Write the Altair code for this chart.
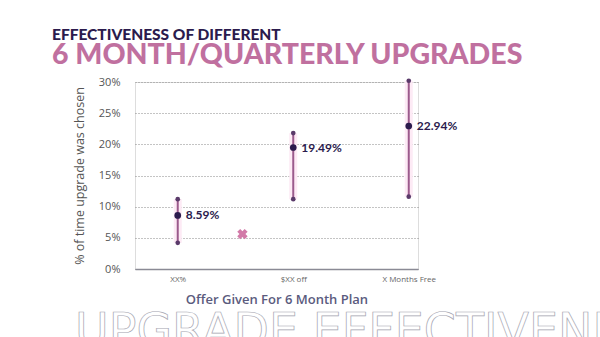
import altair as alt
import pandas as pd

categories = ["XX%", "$XX off", "X Months Free"]
positions = [0, 1, 2]
means = [8.59, 19.49, 22.94]
lows = [4.2, 11.2, 11.6]
highs = [11.2, 21.8, 30.2]
labels = ["8.59%", "19.49%", "22.94%"]

marker_x = [0.56]
marker_y = [5.6]

df = pd.DataFrame({"pos": positions, "cat": categories, "mean": means,
                   "low": lows, "high": highs, "label": labels})
ends = pd.DataFrame({"pos": positions * 2, "v": lows + highs})
mk = pd.DataFrame({"pos": marker_x, "v": marker_y})

W, H = 283, 187
xs = alt.Scale(domain=[-0.37, 2.08], nice=False, zero=False)
ys = alt.Scale(domain=[0, 30], nice=False)

label_expr = "datum.value == 0 ? 'XX%' : datum.value == 1 ? '$XX off' : 'X Months Free'"

x_axis = alt.Axis(values=positions, labelExpr=label_expr, title="Offer Given For 6 Month Plan",
                  grid=False, ticks=False, domain=True, domainColor="#8a8a95", domainWidth=1.5,
                  labelColor="#666", labelFontSize=8, labelPadding=6, labelFont="Open Sans",
                  titleColor="#5b5b7e", titleFontSize=13, titleFont="Open Sans",
                  titleFontWeight=600, titlePadding=10)
y_axis = alt.Axis(values=[0, 5, 10, 15, 20, 25, 30], labelExpr="datum.value + '%'",
                  title="% of time upgrade was chosen", grid=True, gridDash=[1, 2],
                  gridColor="#888", gridWidth=1, ticks=False, domain=False,
                  labelColor="#555", labelFontSize=11, labelFont="Open Sans", labelPadding=15,
                  labelOverlap=False,
                  titleColor="#555", titleFontSize=12.5, titleFont="Open Sans",
                  titleFontWeight="normal", titlePadding=12)

X = lambda f: alt.X(f, scale=xs, axis=x_axis)
Y = lambda f: alt.Y(f, scale=ys, axis=y_axis)

base = alt.Chart(df)

band = base.mark_rule(color="#fdeaf5", strokeWidth=8).encode(
    x=X("pos:Q"), y=Y("low:Q"), y2="high:Q")

rule = base.mark_rule(color="#9b5a8c", strokeWidth=2).encode(
    x=X("pos:Q"), y=Y("low:Q"), y2="high:Q")

endpts = alt.Chart(ends).mark_point(filled=True, color="#5a3a6a", size=22, opacity=1).encode(
    x=X("pos:Q"), y=Y("v:Q"))

meanpt = base.mark_point(filled=True, color="#2b1b4d", size=45, opacity=1).encode(
    x=X("pos:Q"), y=Y("mean:Q"))

txt = base.mark_text(align="left", dx=8, fontSize=12, fontWeight="bold", color="#2b1b4d",
                     font="Lato").encode(
    x=X("pos:Q"), y=Y("mean:Q"), text="label:N")

marker = alt.Chart(mk).mark_point(shape="cross", angle=45, filled=True, color="#d27aa8",
                                  size=110, opacity=1).encode(
    x=X("pos:Q"), y=Y("v:Q"))

bg = alt.Chart(pd.DataFrame({"t": ["UPGRADE EFFECTIVENESS"]})).mark_text(
    align="left", baseline="alphabetic", fontSize=46, font="DejaVu Sans", fontWeight="normal",
    fill="transparent", stroke="#a5a5b0", strokeWidth=0.7).encode(
    text="t:N", x=alt.value(-60), y=alt.value(H + 77))

chart = alt.layer(bg, band, rule, endpts, meanpt, txt, marker).properties(
    width=W, height=H,
    title=alt.TitleParams(text="EFFECTIVENESS OF DIFFERENT",
                          subtitle="6 MONTH/QUARTERLY UPGRADES",
                          anchor="start", frame="group", dx=-83, offset=7,
                          font="Lato", fontSize=15.5, fontWeight=900, color="#2b1b4d",
                          subtitleFont="Lato", subtitleFontSize=28.5, subtitleFontWeight=900,
                          subtitleColor="#c0709f", subtitlePadding=-3),
    autosize=alt.AutoSizeParams(type="none"),
    padding={"left": 135, "top": 82, "right": 182, "bottom": 68},
).configure_view(stroke=None).configure(background="white")

chart.save("out.html", embed_options={"renderer": "svg", "actions": False})
